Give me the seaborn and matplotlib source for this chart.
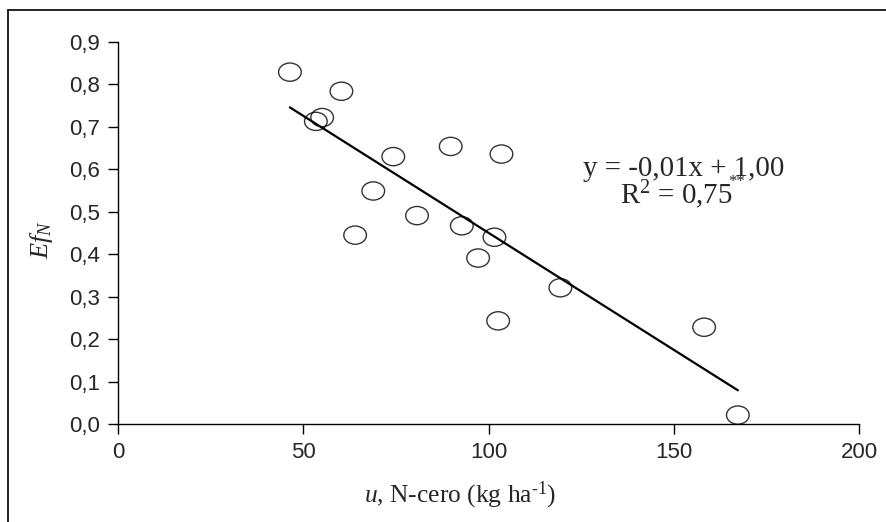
import numpy as np
import pandas as pd
import matplotlib
matplotlib.use("Agg")
import matplotlib.pyplot as plt
from matplotlib.path import Path
from matplotlib.lines import Line2D
import seaborn as sns

# Data
n_zero = [46.4, 60.3, 55.1, 53.4, 74.3, 89.8, 103.5, 68.9, 80.7, 64.0,
          92.8, 101.6, 97.2, 119.4, 102.6, 158.2, 167.3]
ef_n = [0.829, 0.784, 0.722, 0.713, 0.630, 0.654, 0.636, 0.549, 0.491, 0.445,
        0.467, 0.440, 0.391, 0.321, 0.243, 0.228, 0.021]
x_ticks = [0, 50, 100, 150, 200]
y_ticks = [0.0, 0.1, 0.2, 0.3, 0.4, 0.5, 0.6, 0.7, 0.8, 0.9]
y_tick_labels = ["0,0", "0,1", "0,2", "0,3", "0,4", "0,5", "0,6", "0,7", "0,8", "0,9"]
eq_line1 = "y = -0,01x + 1,00"
eq_line2 = "R$^2$ = 0,75"
eq_sig = "**"

df = pd.DataFrame({"u": n_zero, "ef": ef_n})

sns.set_style("ticks")
plt.rcParams["font.family"] = ["Liberation Sans", "DejaVu Sans"]
plt.rcParams["mathtext.fontset"] = "custom"
plt.rcParams["mathtext.rm"] = "Liberation Serif"
plt.rcParams["mathtext.it"] = "Liberation Serif:italic"
plt.rcParams["mathtext.bf"] = "Liberation Serif:bold"

W, H = 886, 522
fig = plt.figure(figsize=(W / 100, H / 100), dpi=100)
fig.patch.set_facecolor("white")

ax_left, ax_right, ax_top, ax_bottom = 118, 859, 42, 424
ax = fig.add_axes([ax_left / W, 1 - ax_bottom / H,
                   (ax_right - ax_left) / W, (ax_bottom - ax_top) / H])

# elliptical open marker
circ = Path.unit_circle()
ell = Path(circ.vertices * np.array([1.0, 0.806]), circ.codes)

sns.regplot(data=df, x="u", y="ef", ax=ax, ci=None, truncate=True,
            marker=ell,
            scatter_kws=dict(s=16.3 ** 2, facecolors="none",
                             edgecolors="black", linewidths=1.0, zorder=3),
            line_kws=dict(color="black", lw=1.6, zorder=2))

ax.set_xlim(0, 200)
ax.set_ylim(0, 0.9)
ax.set_xticks(x_ticks)
ax.set_xticklabels([str(t) for t in x_ticks])
ax.set_yticks(y_ticks)
ax.set_yticklabels(y_tick_labels)
ax.tick_params(axis="both", direction="out", length=7, width=1.0,
               color="black", labelsize=16, pad=6)
for side in ["top", "right"]:
    ax.spines[side].set_visible(False)
for side in ["left", "bottom"]:
    ax.spines[side].set_color("black")
    ax.spines[side].set_linewidth(1.0)

ax.set_xlabel(r"$\mathit{u}$, N-cero (kg ha$^{\text{-}1}$)", fontsize=18.4,
              fontfamily="Liberation Serif", va="center")
ax.xaxis.set_label_coords((460 - ax_left) / (ax_right - ax_left),
                          (ax_bottom - 495) / (ax_bottom - ax_top))
ax.set_ylabel(r"$Ef_N$", fontsize=19, va="center")
ax.yaxis.set_label_coords((42 - ax_left) / (ax_right - ax_left),
                          (ax_bottom - 240) / (ax_bottom - ax_top))

fig.text(583 / W, 1 - 176 / H, eq_line1, fontsize=20.8,
         fontfamily="Liberation Serif", ha="left", va="baseline")
fig.text(620 / W, 1 - 204 / H, eq_line2, fontsize=20.8,
         fontfamily="Liberation Serif", ha="left", va="baseline")
fig.text(728 / W, 1 - 182 / H, eq_sig, fontsize=12,
         fontfamily="Liberation Serif", ha="left", va="center")

# chart-area frame (top and left edges visible)
fig.add_artist(Line2D([8 / W, 1.0], [1 - 10 / H, 1 - 10 / H],
                      transform=fig.transFigure, color="black", lw=1.2))
fig.add_artist(Line2D([8 / W, 8 / W], [1 - 10 / H, 0.0],
                      transform=fig.transFigure, color="black", lw=1.2))

fig.savefig("out.png", dpi=100, facecolor="white")
